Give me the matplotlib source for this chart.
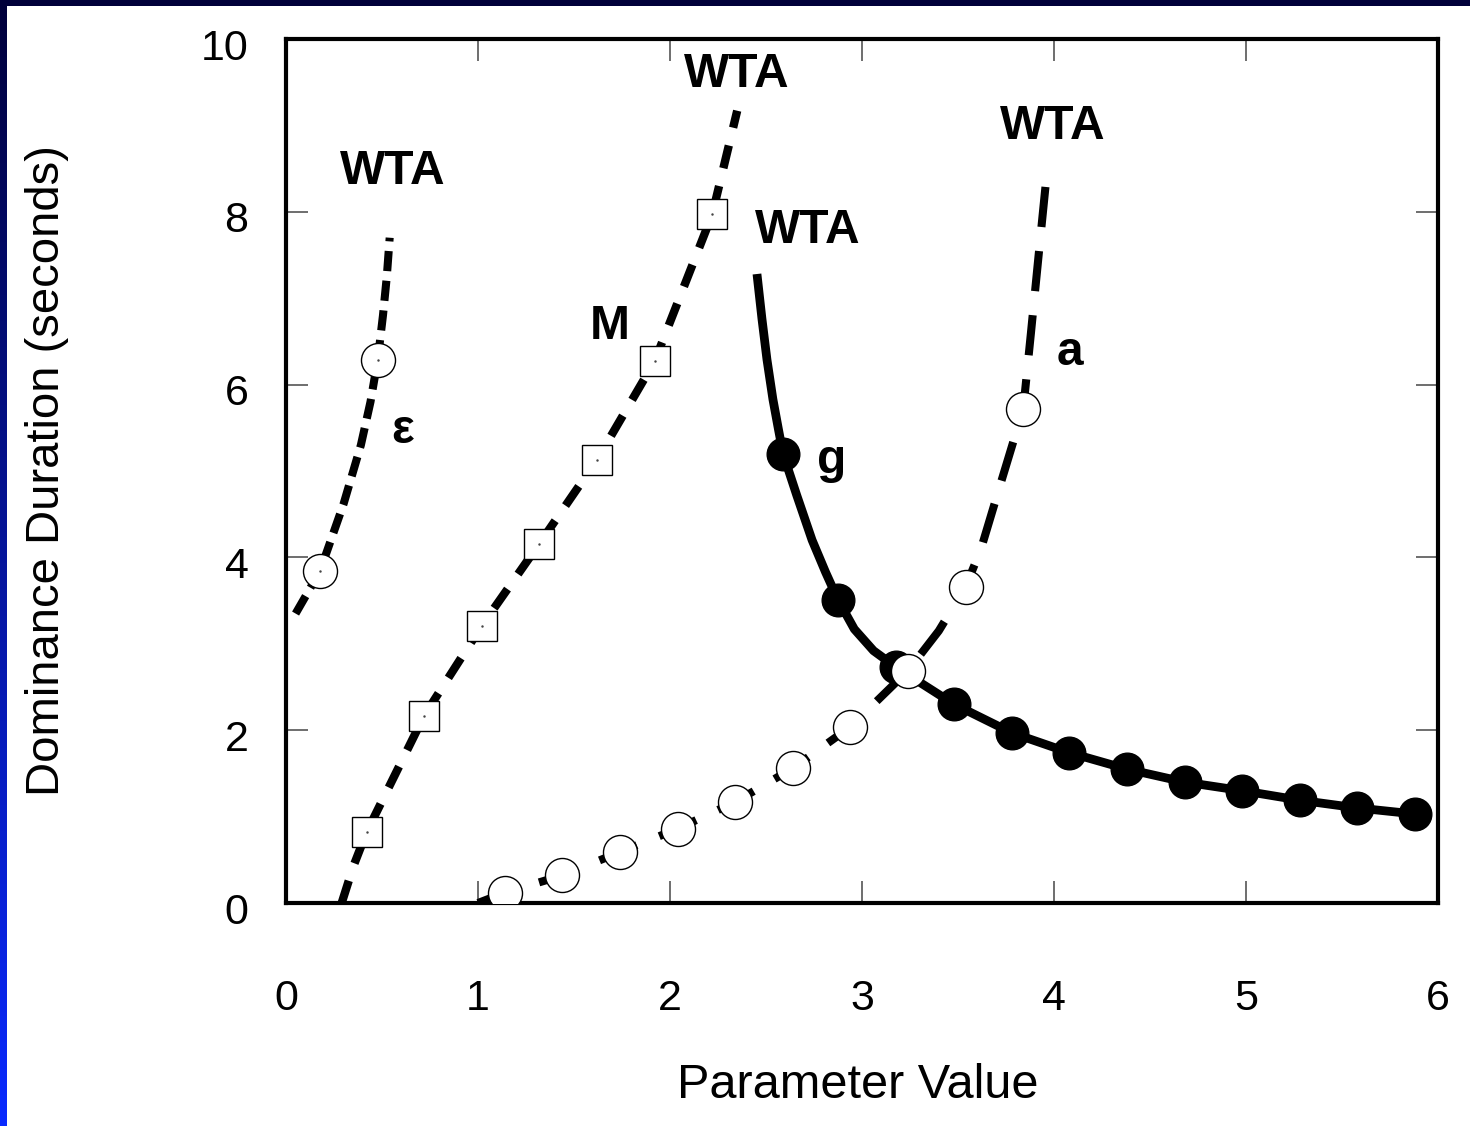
import numpy as np
import matplotlib
matplotlib.use("Agg")
import matplotlib.pyplot as plt
from matplotlib.patches import Rectangle
from matplotlib.colors import LinearSegmentedColormap
from matplotlib.transforms import ScaledTranslation

plt.rcParams['font.family'] = ['Liberation Sans', 'DejaVu Sans']

# --- epsilon sweep (open circles, short dashes) ---
eps_line_x = [0.05, 0.177, 0.30, 0.39, 0.44, 0.478, 0.505, 0.525, 0.54]
eps_line_y = [3.35, 3.84, 4.62, 5.30, 5.80, 6.29, 6.80, 7.25, 7.70]
eps_pts_x = [0.177, 0.478]
eps_pts_y = [3.84, 6.29]

# --- M sweep (open squares, medium dashes) ---
m_line_x = [0.29, 0.35, 0.42, 0.72, 1.02, 1.32, 1.62, 1.92, 2.22, 2.35]
m_line_y = [0.0, 0.42, 0.82, 2.17, 3.21, 4.16, 5.13, 6.27, 7.97, 9.17]
m_pts_x = [0.42, 0.72, 1.02, 1.32, 1.62, 1.92, 2.22]
m_pts_y = [0.82, 2.17, 3.21, 4.16, 5.13, 6.27, 7.97]

# --- g sweep (filled circles, solid) ---
g_line_x = [2.453, 2.479, 2.505, 2.536, 2.565, 2.589, 2.66, 2.74, 2.81, 2.875,
            2.96, 3.06, 3.177, 3.48, 3.78, 4.08, 4.38, 4.68, 4.98, 5.28,
            5.58, 5.88]
g_line_y = [7.28, 6.76, 6.29, 5.83, 5.48, 5.20, 4.72, 4.20, 3.83, 3.51,
            3.17, 2.92, 2.73, 2.30, 1.97, 1.74, 1.55, 1.40, 1.30, 1.19,
            1.10, 1.03]
g_pts_x = [2.589, 2.875, 3.177, 3.48, 3.78, 4.08, 4.38, 4.68, 4.98, 5.28, 5.58, 5.88]
g_pts_y = [5.20, 3.51, 2.73, 2.30, 1.97, 1.74, 1.55, 1.40, 1.30, 1.19, 1.10, 1.03]

# --- a sweep (open circles, long dashes) ---
a_line_x = [1.0, 1.14, 1.44, 1.74, 2.04, 2.34, 2.64, 2.94, 3.24, 3.40, 3.54,
            3.62, 3.72, 3.84, 3.88, 3.92, 3.965]
a_line_y = [0.0, 0.12, 0.32, 0.59, 0.86, 1.17, 1.56, 2.04, 2.69, 3.15, 3.66,
            4.10, 4.84, 5.72, 6.60, 7.50, 8.50]
a_pts_x = [1.14, 1.44, 1.74, 2.04, 2.34, 2.64, 2.94, 3.24, 3.54, 3.84]
a_pts_y = [0.12, 0.32, 0.59, 0.86, 1.17, 1.56, 2.04, 2.69, 3.66, 5.72]

x_ticks = [0, 1, 2, 3, 4, 5, 6]
y_ticks = [0, 2, 4, 6, 8, 10]

# curve annotations: (text, x, y)
annotations = [
    ("WTA", 0.557, 8.47),
    ("WTA", 2.349, 9.59),
    ("WTA", 2.719, 7.78),
    ("WTA", 3.995, 8.99),
    ("M", 1.6875, 6.67),
    ("\u03b5", 0.609, 5.47),
    ("g", 2.844, 5.12),
    ("a", 4.083, 6.37),
]

W, H = 1470, 1126
fig = plt.figure(figsize=(W / 100, H / 100), dpi=100)
fig.patch.set_facecolor('white')

# slide frame: navy top band and left band shading to bright blue
edge = LinearSegmentedColormap.from_list('edge', ['#0a2aff', '#00003a'])
band = fig.add_axes([0, 0, 6 / W, 1])
band.imshow(np.linspace(0, 1, 256).reshape(-1, 1), aspect='auto', cmap=edge,
            origin='lower', extent=[0, 1, 0, 1])
band.set_axis_off()
fig.add_artist(Rectangle((0, 1 - 6 / H), 1, 6 / H, transform=fig.transFigure,
                         facecolor='#00003a', edgecolor='none', zorder=5))

ax = fig.add_axes([286 / W, (H - 903) / H, (1438 - 286) / W, (903 - 39) / H])
ax.set_xlim(0, 6)
ax.set_ylim(0, 10)

# epsilon
ax.plot(eps_line_x, eps_line_y, color='black', lw=5.8, dashes=(2.5, 1.2),
        dash_capstyle='butt', zorder=2)
ax.plot(eps_pts_x, eps_pts_y, 'o', ms=24.5, mfc='white', mec='black', mew=1.0, zorder=3)
ax.plot(eps_pts_x, eps_pts_y, '.', ms=1.5, color='#444444', zorder=4)

# M
ax.plot(m_line_x, m_line_y, color='black', lw=6, dashes=(2.8, 2.2),
        dash_capstyle='butt', zorder=2)
ax.plot(m_pts_x, m_pts_y, 's', ms=22, mfc='white', mec='black', mew=1.0, zorder=3)
ax.plot(m_pts_x, m_pts_y, '.', ms=1.5, color='#444444', zorder=4)

# g
ax.plot(g_line_x, g_line_y, color='black', lw=6.3, solid_capstyle='butt',
        solid_joinstyle='round', zorder=2)
ax.plot(g_pts_x, g_pts_y, 'o', ms=23.5, mfc='black', mec='black', zorder=3)

# a
ax.plot(a_line_x, a_line_y, color='black', lw=5.8, dashes=(5.0, 3.0),
        dash_capstyle='butt', zorder=4)
ax.plot(a_pts_x, a_pts_y, 'o', ms=24.5, mfc='white', mec='black', mew=1.0, zorder=5)

for txt, tx, ty in annotations:
    ax.text(tx, ty, txt, fontsize=34.5, fontweight='bold', ha='center', va='center',
            zorder=6)

for s in ax.spines.values():
    s.set_linewidth(3)
    s.set_color('black')

ax.set_xticks(x_ticks)
ax.set_yticks(y_ticks)
ax.set_xticklabels([str(v) for v in x_ticks])
ax.set_yticklabels([str(v) for v in y_ticks])
ax.tick_params(direction='in', length=16, width=1.2, color='#555555',
               top=True, right=True, labelsize=31)
ax.tick_params(axis='x', pad=55)
ax.tick_params(axis='y', pad=27)
for lab in ax.get_yticklabels():
    lab.set_transform(lab.get_transform() + ScaledTranslation(0, -0.05, fig.dpi_scale_trans))

ax.set_xlabel('Parameter Value', fontsize=35)
ax.set_ylabel('Dominance Duration (seconds)', fontsize=34)
ax.xaxis.label.set_va('center')
ax.yaxis.label.set_va('center')
ax.xaxis.set_label_coords(0.4965, -(1086 - 903) / (903 - 39))
ax.yaxis.set_label_coords(-(286 - 47) / (1438 - 286), 0.5)

fig.savefig('out.png', dpi=100)
